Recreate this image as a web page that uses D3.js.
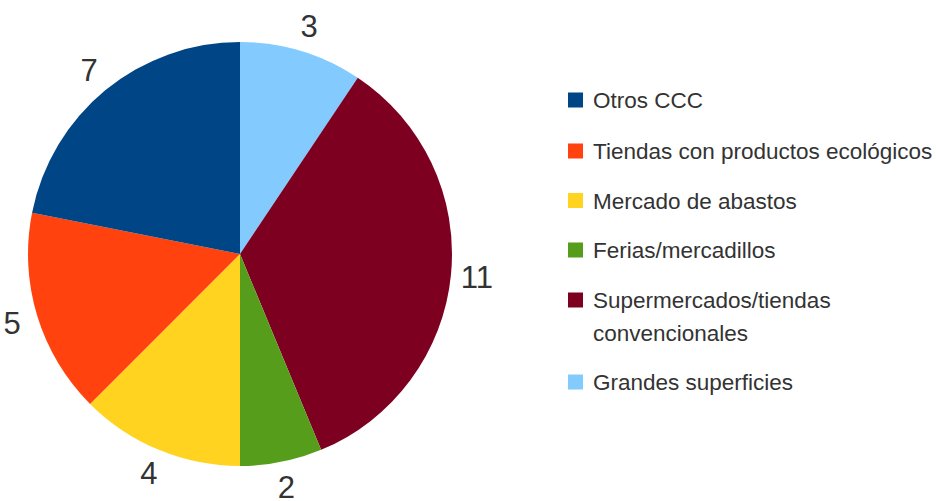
<!DOCTYPE html>
<html><head><meta charset="utf-8">
<script src="https://cdn.jsdelivr.net/npm/d3@7"></script>
<style>body{margin:0;background:#fff}svg{display:block}</style>
</head><body>
<svg id="c" width="936" height="501"></svg>
<script>
const categories = ["Otros CCC","Tiendas con productos ecológicos","Mercado de abastos","Ferias/mercadillos","Supermercados/tiendas convencionales","Grandes superficies"];
const legendLines = [["Otros CCC"],["Tiendas con productos ecológicos"],["Mercado de abastos"],["Ferias/mercadillos"],["Supermercados/tiendas","convencionales"],["Grandes superficies"]];
const values = [7,5,4,2,11,3];
const colors = ["#004586","#ff420e","#ffd320","#579d1c","#7e0021","#83caff"];

const svg = d3.select("#c");
const cx = 240, cy = 254, R = 212, LR = 238;
// pie order: clockwise from top, reversed legend order
const idx = d3.range(categories.length).reverse();
const pie = d3.pie().sort(null).value(i => values[i]);
const arcs = pie(idx);
const arc = d3.arc().innerRadius(0).outerRadius(R);
const g = svg.append("g").attr("transform", `translate(${cx},${cy})`);
g.selectAll("path").data(arcs).join("path")
  .attr("d", arc).attr("fill", d => colors[d.data]);
const larc = d3.arc().innerRadius(LR).outerRadius(LR);
g.selectAll("text").data(arcs).join("text")
  .attr("transform", d => `translate(${larc.centroid(d)})`)
  .attr("text-anchor","middle").attr("dominant-baseline","central")
  .attr("font-family","Liberation Sans, Arial, sans-serif").attr("font-size",31)
  .attr("fill","#333").text(d => values[d.data]);

const lg = svg.append("g");
const ys = [100,151,200.5,250,300,382];
categories.forEach((c,i) => {
  lg.append("rect").attr("x",568).attr("y",ys[i]-7.5).attr("width",15).attr("height",15).attr("fill",colors[i]);
  const t = lg.append("text").attr("x",593).attr("y",ys[i])
    .attr("dominant-baseline","central")
    .attr("font-family","Liberation Sans, Arial, sans-serif").attr("font-size",22.5)
    .attr("fill","#333");
  legendLines[i].forEach((l,j) => t.append("tspan").attr("x",593).attr("dy", j===0?0:33).text(l));
});
</script>
</body></html>
